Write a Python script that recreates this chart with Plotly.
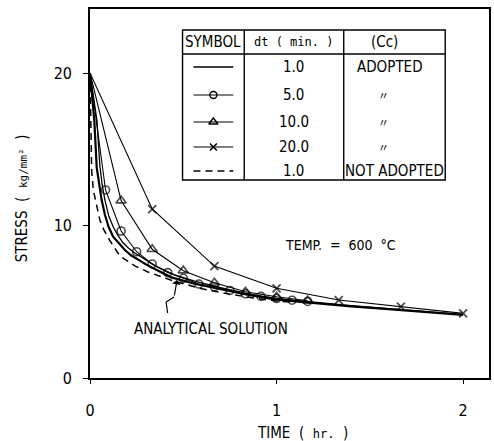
import plotly.graph_objects as go

# ---------------- data ----------------
t_circle = [0, 0.0833, 0.1667, 0.25, 0.3333, 0.4167, 0.5, 0.5833, 0.6667, 0.75, 0.8333, 0.9167, 1.0, 1.0833, 1.1667]
s_circle = [20, 12.33, 9.64, 8.28, 7.48, 6.91, 6.54, 6.16, 5.98, 5.74, 5.52, 5.35, 5.21, 5.10, 5.02]

t_tri = [0, 0.1667, 0.3333, 0.5, 0.6667, 0.8333, 1.0, 1.1667]
s_tri = [20, 11.63, 8.44, 7.04, 6.25, 5.66, 5.33, 5.07]

t_x = [0, 0.3333, 0.6667, 1.0, 1.3333, 1.6667, 2.0]
s_x = [20, 11.08, 7.34, 5.88, 5.11, 4.68, 4.24]

t_adopt = [0, 0.015, 0.037, 0.053, 0.065, 0.08, 0.101, 0.125, 0.148, 0.175, 0.204, 0.24, 0.276, 0.35, 0.45, 0.56, 0.7, 0.85, 1.0, 1.2, 1.4, 1.6, 1.8, 2.0]
s_adopt = [20, 18.6, 16.9, 13.9, 12.7, 11.67, 10.6, 9.9, 9.38, 8.9, 8.54, 8.2, 7.91, 7.35, 6.78, 6.35, 5.92, 5.52, 5.2, 4.96, 4.75, 4.55, 4.36, 4.17]

t_anal = [0, 0.01, 0.023, 0.036, 0.05, 0.062, 0.08, 0.1, 0.124, 0.155, 0.187, 0.22, 0.258, 0.3, 0.347, 0.436, 0.56, 0.7, 0.85, 1.0, 1.2, 1.4, 1.6, 1.8, 2.0]
s_anal = [20, 18.4, 16.9, 13.8, 12.5, 11.7, 10.7, 9.9, 9.27, 8.8, 8.39, 8.05, 7.74, 7.45, 7.15, 6.6, 6.18, 5.8, 5.44, 5.13, 4.9, 4.7, 4.51, 4.32, 4.13]

t_noadopt = [0, 0.004, 0.009, 0.018, 0.036, 0.053, 0.075, 0.107, 0.16, 0.24, 0.311, 0.382, 0.45, 0.6, 0.75, 0.9, 1.0, 1.1]
s_noadopt = [20, 16.5, 13.6, 12.3, 11.2, 10.36, 9.7, 9.0, 8.0, 7.35, 6.95, 6.62, 6.35, 5.85, 5.5, 5.2, 5.05, 4.95]

x_ticks = [0, 1, 2]
y_ticks = [0, 10, 20]

legend_dt = ["1.0", "5.0", "10.0", "20.0", "1.0"]
legend_cc = ["ADOPTED", "〃", "〃", "〃", "NOT ADOPTED"]

# ---------------- layout helpers ----------------
W, H = 494, 441
L, R, T, B = 90, 491, 9, 378
XMAX = (R - L) / 187.5
YMAX = (B - T) / 15.25

def px(x):
    return (x - L) / (R - L)

def py(y):
    return (B - y) / (B - T)

def msizes(ts, size):
    # no symbol drawn at the common starting point t = 0
    return [0 if t == 0 else size for t in ts]

FONT = "Liberation Sans Narrow, DejaVu Sans Condensed, Roboto Condensed, Liberation Sans, sans-serif"
MONO = "DejaVu Sans Mono, Liberation Mono, monospace"
BLK = "black"

fig = go.Figure()

fig.add_trace(go.Scatter(x=t_noadopt, y=s_noadopt, mode="lines",
                         line=dict(color=BLK, width=1.5, dash="7px,5px"), showlegend=False))
fig.add_trace(go.Scatter(x=t_anal, y=s_anal, mode="lines",
                         line=dict(color=BLK, width=2.2), showlegend=False))
fig.add_trace(go.Scatter(x=t_adopt, y=s_adopt, mode="lines",
                         line=dict(color=BLK, width=1.3), showlegend=False))
fig.add_trace(go.Scatter(x=t_circle, y=s_circle, mode="lines+markers",
                         line=dict(color=BLK, width=1.1),
                         marker=dict(symbol="circle-open", size=msizes(t_circle, 8), color=BLK, line=dict(width=1.6)),
                         showlegend=False))
fig.add_trace(go.Scatter(x=t_tri, y=s_tri, mode="lines+markers",
                         line=dict(color=BLK, width=1.1),
                         marker=dict(symbol="triangle-up-open", size=msizes(t_tri, 9), color=BLK, line=dict(width=1.6)),
                         showlegend=False))
fig.add_trace(go.Scatter(x=t_x, y=s_x, mode="lines+markers",
                         line=dict(color=BLK, width=1.1),
                         marker=dict(symbol="x-thin-open", size=msizes(t_x, 8), color=BLK, line=dict(width=1.8)),
                         showlegend=False))

# ---------------- legend table glyphs (overlay axis in plot-area units) ----------------
rows_y = [67, 95, 122, 147, 171]
glyph_lines = [
    dict(color=BLK, width=1.3),
    dict(color=BLK, width=1.1),
    dict(color=BLK, width=1.1),
    dict(color=BLK, width=1.1),
    dict(color=BLK, width=1.3, dash="7px,5px"),
]
glyph_markers = [
    None,
    dict(symbol="circle-open", size=7, color=BLK, line=dict(width=1.4)),
    dict(symbol="triangle-up-open", size=8, color=BLK, line=dict(width=1.4)),
    dict(symbol="x-thin-open", size=7, color=BLK, line=dict(width=1.6)),
    None,
]
for yy, gl, gm in zip(rows_y, glyph_lines, glyph_markers):
    fig.add_trace(go.Scatter(x=[px(194), px(234)], y=[py(yy)] * 2, mode="lines", line=gl,
                             xaxis="x2", yaxis="y2", showlegend=False, hoverinfo="skip"))
    if gm is not None:
        fig.add_trace(go.Scatter(x=[px(214)], y=[py(yy)], mode="markers", marker=gm,
                                 xaxis="x2", yaxis="y2", showlegend=False, hoverinfo="skip"))

shapes = []
tl, tr, tt, tb = 183, 447, 30, 180
shapes.append(dict(type="rect", xref="paper", yref="paper", x0=px(tl), x1=px(tr), y0=py(tb), y1=py(tt),
                   line=dict(color=BLK, width=1.4)))
shapes.append(dict(type="line", xref="paper", yref="paper", x0=px(tl), x1=px(tr), y0=py(54), y1=py(54),
                   line=dict(color=BLK, width=1.4)))
for cx in (245, 345):
    shapes.append(dict(type="line", xref="paper", yref="paper", x0=px(cx), x1=px(cx), y0=py(tb), y1=py(tt),
                       line=dict(color=BLK, width=1.4)))
# zigzag pointer for the analytical solution
shapes.append(dict(type="path", xref="paper", yref="paper",
                   path="M {} {} L {} {} L {} {}".format(px(168), py(313), px(166.5), py(302), px(174.5), py(297)),
                   line=dict(color=BLK, width=1.2)))

ann = []
def txt(x, y, s, size=15, family=FONT, **kw):
    d = dict(xref="paper", yref="paper", x=px(x), y=py(y), text=s, showarrow=False,
             font=dict(family=family, size=size, color=BLK), xanchor="center", yanchor="middle")
    d.update(kw)
    ann.append(d)

txt(214, 42, "SYMBOL")
txt(295, 42, "dt ( min. )", size=12, family=MONO)
txt(386, 42, "(Cc)")
for yy, d_, c_ in zip(rows_y, legend_dt, legend_cc):
    txt(295, yy, d_)
    if c_ == "〃":
        txt(385, yy, c_, size=11, family="Noto Sans CJK JP")
    elif c_ == "ADOPTED":
        txt(356, yy, c_, xanchor="left")
    else:
        txt(396, yy, c_)
txt(342, 245, "TEMP.  =  600  °C", size=14)
txt(212, 329, "ANALYTICAL SOLUTION")
# arrow head of pointer
ann.append(dict(xref="x2", yref="y2", x=px(177.5), y=py(280), ax=px(174.5), ay=py(297),
                axref="x2", ayref="y2", text="", showarrow=True, arrowhead=1, arrowsize=1.2,
                arrowwidth=1.2, arrowcolor=BLK))
# axis titles
ann.append(dict(xref="paper", yref="paper", x=px(304), y=py(433), showarrow=False,
                text="TIME  (  <span style='font-family:DejaVu Sans Mono;font-size:12px'>hr.</span>  )",
                font=dict(family=FONT, size=15, color=BLK), xanchor="center", yanchor="middle"))
ann.append(dict(xref="paper", yref="paper", x=px(22), y=py(198), showarrow=False, textangle=-90,
                text="STRESS  (  <span style='font-family:DejaVu Sans Mono;font-size:11px'>kg/mm²</span>  )",
                font=dict(family=FONT, size=15, color=BLK), xanchor="center", yanchor="middle"))

fig.update_layout(
    width=W, height=H,
    margin=dict(l=L, r=W - R, t=T, b=H - B),
    paper_bgcolor="white", plot_bgcolor="white",
    shapes=shapes, annotations=ann,
    xaxis=dict(range=[0, XMAX], tickvals=x_ticks, ticktext=[str(v) for v in x_ticks],
               showline=True, linecolor=BLK, linewidth=1.6, mirror=True,
               ticks="outside", ticklen=4, tickwidth=1.4, tickcolor=BLK,
               showgrid=False, zeroline=False, ticklabelstandoff=13,
               tickfont=dict(family=FONT, size=16, color=BLK)),
    yaxis=dict(range=[0, YMAX], tickvals=y_ticks, ticktext=[str(v) for v in y_ticks],
               showline=True, linecolor=BLK, linewidth=1.6, mirror=True,
               ticks="outside", ticklen=5, tickwidth=1.4, tickcolor=BLK,
               showgrid=False, zeroline=False, ticklabelstandoff=8,
               tickfont=dict(family=FONT, size=16, color=BLK)),
    xaxis2=dict(overlaying="x", range=[0, 1], visible=False),
    yaxis2=dict(overlaying="y", range=[0, 1], visible=False),
)

fig.write_html("out.html", config={"displayModeBar": False},
               post_script="document.body.style.margin='0';document.body.style.overflow='hidden';")
